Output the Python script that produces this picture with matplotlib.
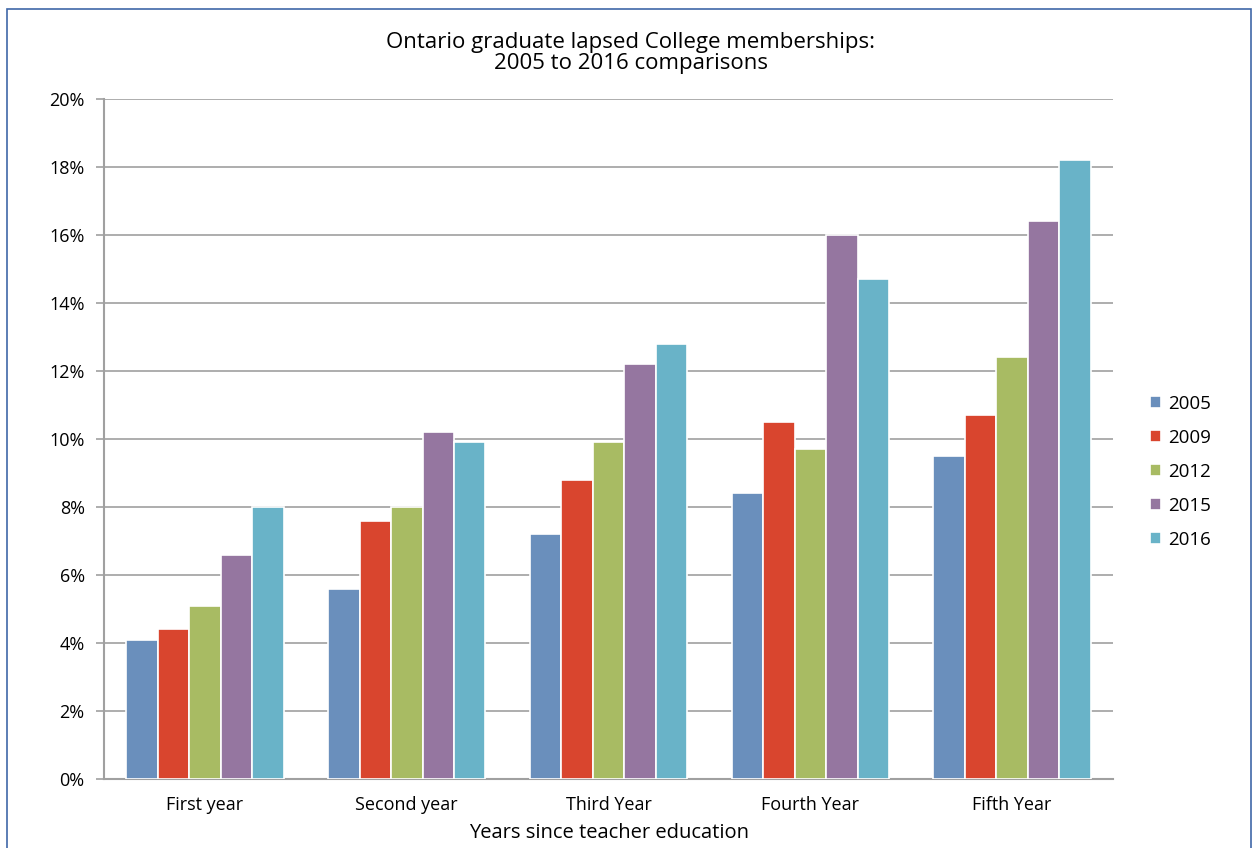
import numpy as np
import matplotlib.pyplot as plt
from matplotlib.patches import Rectangle

plt.rcParams['font.family'] = ['Open Sans', 'DejaVu Sans']

categories = ['First year', 'Second year', 'Third Year', 'Fourth Year', 'Fifth Year']
years = ['2005', '2009', '2012', '2015', '2016']
lapsed = {
    '2005': [4.1, 5.6, 7.2, 8.4, 9.5],
    '2009': [4.4, 7.6, 8.8, 10.5, 10.7],
    '2012': [5.1, 8.0, 9.9, 9.7, 12.4],
    '2015': [6.6, 10.2, 12.2, 16.0, 16.4],
    '2016': [8.0, 9.9, 12.8, 14.7, 18.2],
}
colors = ['#6a8fbc', '#d9452e', '#a8bb63', '#9576a0', '#69b3c8']

fig = plt.figure(figsize=(12.54, 8.48), dpi=100)
ax = fig.add_axes([0.083, 0.0814, 0.8046, 0.802])

# outer frame
fig.patches.append(Rectangle((7 / 1254, -0.01), 1244 / 1254, 1 - 9 / 848 + 0.01,
                             transform=fig.transFigure, fill=False,
                             edgecolor='#3f67a8', lw=1.2))

x = np.arange(len(categories))
w = 0.156
for i, yr in enumerate(years):
    ax.bar(x + (i - 2) * w, lapsed[yr], width=w, color=colors[i],
           edgecolor='white', linewidth=1.2, label=yr, zorder=3)

ax.set_xlim(-0.5, len(categories) - 0.5)
ax.set_ylim(0, 20)
ax.set_yticks(np.arange(0, 21, 2))
ax.set_yticklabels([f'{v}%' for v in range(0, 21, 2)], fontsize=13, fontweight='medium')
ax.set_xticks(x)
ax.set_xticklabels(categories, fontsize=13, fontweight='medium')
ax.tick_params(axis='x', length=0, pad=12)
ax.tick_params(axis='y', length=6, width=1.2, color='#a0a0a0', pad=8)
ax.grid(axis='y', color='#a0a0a0', lw=1.2, zorder=0)
for s in ['top', 'right']:
    ax.spines[s].set_visible(False)
for s in ['left', 'bottom']:
    ax.spines[s].set_color('#a0a0a0')
    ax.spines[s].set_linewidth(1.5)

ax.set_xlabel('Years since teacher education', fontsize=14.5, fontweight='medium', labelpad=7)
fig.text(0.503, 0.937, 'Ontario graduate lapsed College memberships:\n2005 to 2016 comparisons',
         ha='center', va='center', fontsize=16, fontweight='medium', linespacing=1.0)

ax.legend(loc='center left', bbox_to_anchor=(1.02, 0.4515), frameon=False,
          prop={'size': 13.5, 'weight': 'medium'}, handlelength=0.6, handleheight=0.6,
          handletextpad=0.35, labelspacing=0.85)

fig.savefig('out.png', dpi=100)
